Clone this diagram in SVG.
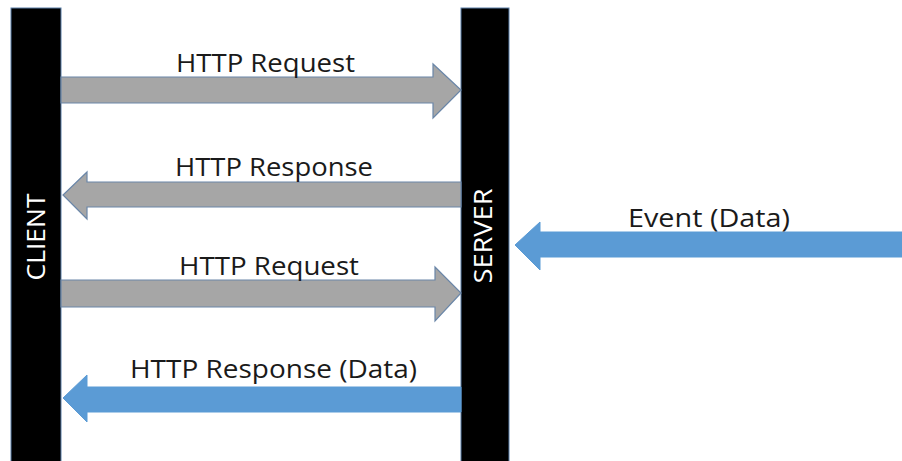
<svg xmlns="http://www.w3.org/2000/svg" width="902" height="461" viewBox="0 0 902 461">
<style>
.bar{fill:#000;stroke:#5a7fa8;stroke-width:1}
.gray{fill:#a6a6a6;stroke:#6a86a8;stroke-width:1.2}
.blue{fill:#5b9bd5;stroke:#5b9bd5;stroke-width:1}
.lbl{font-family:"Open Sans","Liberation Sans",sans-serif;font-size:26px;fill:#1a1a1a}
.vt{font-family:"Open Sans","Liberation Sans",sans-serif;font-size:25px;fill:#fff}
</style>
<rect width="902" height="461" fill="#fff"/>
<g id="client">
<rect class="bar" x="11" y="8" width="50" height="460"/>
<text class="vt" transform="translate(45,237) rotate(-90)" text-anchor="middle" textLength="87" lengthAdjust="spacingAndGlyphs">CLIENT</text>
</g>
<g id="server">
<rect class="bar" x="461" y="8" width="48" height="460"/>
<text class="vt" transform="translate(492,236) rotate(-90)" text-anchor="middle" textLength="95" lengthAdjust="spacingAndGlyphs">SERVER</text>
</g>
<g id="connectors">
<g id="req1">
<path class="gray" d="M61,77 H433 V64 L461,90 L433,118 V103 H61 Z"/>
<text class="lbl" x="176" y="72" textLength="179" lengthAdjust="spacingAndGlyphs">HTTP Request</text>
</g>
<g id="resp1">
<path class="gray" d="M461,182 H87 V172 L63,195 L87,219 V207 H461 Z"/>
<text class="lbl" x="175" y="176" textLength="198" lengthAdjust="spacingAndGlyphs">HTTP Response</text>
</g>
<g id="req2">
<path class="gray" d="M61,280 H435 V267 L461,293 L435,321 V307 H61 Z"/>
<text class="lbl" x="179" y="275" textLength="180" lengthAdjust="spacingAndGlyphs">HTTP Request</text>
</g>
<g id="resp2">
<path class="blue" d="M461,387 H87 V375 L63,398 L87,422 V412 H461 Z"/>
<text class="lbl" x="130" y="378" textLength="287" lengthAdjust="spacingAndGlyphs">HTTP Response (Data)</text>
</g>
<g id="event">
<path class="blue" d="M902,232 H540 V222 L515,245 L540,270 V257 H902 Z"/>
<text class="lbl" x="628" y="227" textLength="162" lengthAdjust="spacingAndGlyphs">Event (Data)</text>
</g>
</g>
</svg>
